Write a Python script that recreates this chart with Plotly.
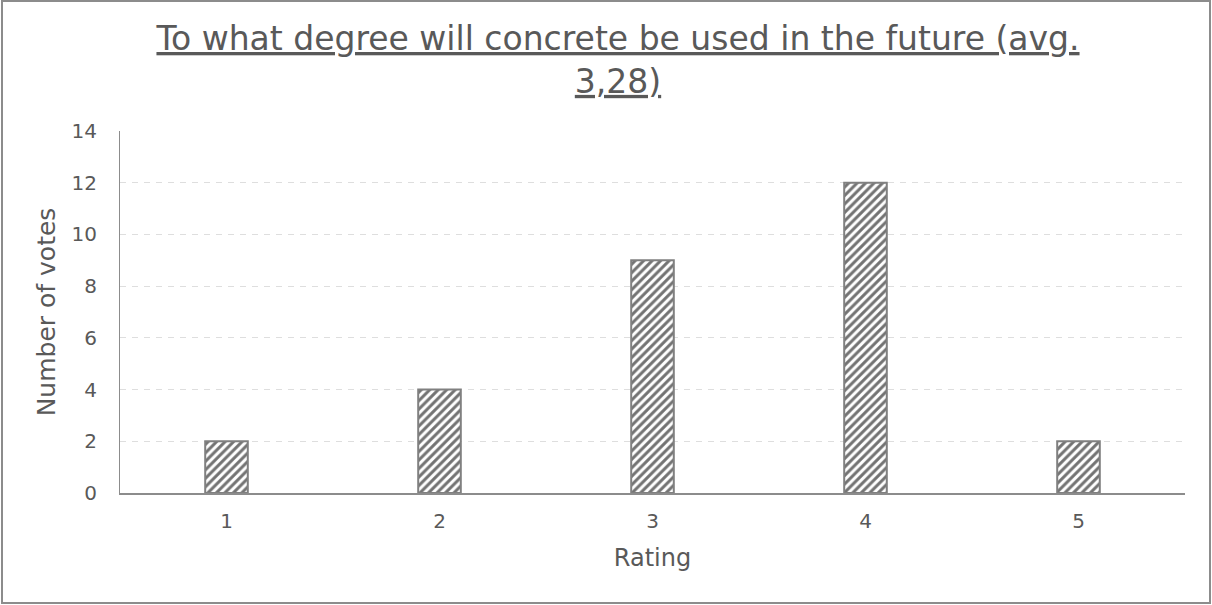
import plotly.graph_objects as go

# Survey results: rating vs. number of votes
ratings = ["1", "2", "3", "4", "5"]
votes = [2, 4, 9, 12, 2]
y_ticks = [0, 2, 4, 6, 8, 10, 12, 14]

title_text = "<u>To what degree will concrete be used in the future (avg.</u><br><u>3,28)</u>"

W, H = 1212, 605
ML, MR, MT, MB = 120, 27, 131, 112
FONT = "Verdana, DejaVu Sans, sans-serif"
TXT = "#595959"

fig = go.Figure(
    go.Bar(
        x=ratings,
        y=votes,
        width=0.2,
        marker=dict(
            color="white",
            line=dict(color="#808080", width=2),
            pattern=dict(shape="/", fgcolor="#737373", bgcolor="white",
                         size=6, solidity=0.5, fillmode="replace"),
        ),
        hoverinfo="x+y",
    )
)

# outer chart frame, expressed in paper coordinates
pw, ph = W - ML - MR, H - MT - MB
fx0 = (2 - ML) / pw
fx1 = (W - 2 - ML) / pw
fy0 = -(H - 2 - (H - MB)) / ph
fy1 = 1 + (MT - 1) / ph
fig.add_shape(type="rect", xref="paper", yref="paper",
              x0=fx0, x1=fx1, y0=fy0, y1=fy1,
              line=dict(color="#8c8c8c", width=2), fillcolor="rgba(0,0,0,0)",
              layer="below")

fig.update_layout(
    width=W, height=H,
    margin=dict(l=ML, r=MR, t=MT, b=MB),
    paper_bgcolor="white",
    plot_bgcolor="white",
    font=dict(family=FONT, color=TXT, size=20),
    title=dict(text=title_text, x=618 / W, xref="container", xanchor="center",
               y=1 - 50 / H, yanchor="top",
               font=dict(family=FONT, size=33, color=TXT)),
    showlegend=False,
    bargap=0.8,
    xaxis=dict(
        title=dict(text="Rating", font=dict(size=24, color=TXT), standoff=17),
        showline=True, linecolor="#8c8c8c", linewidth=2,
        ticks="", showgrid=False,
        ticklabelstandoff=9,
        tickfont=dict(size=20, color=TXT),
    ),
    yaxis=dict(
        title=dict(text="Number of votes", font=dict(size=25, color=TXT), standoff=8),
        range=[0, 14],
        tickvals=y_ticks,
        showline=True, linecolor="#8c8c8c", linewidth=1,
        showgrid=True, gridcolor="#dedede", griddash="6px,6px", gridwidth=1,
        zeroline=False,
        ticks="", ticklen=0,
        ticklabelstandoff=18,
        tickfont=dict(size=20, color=TXT),
    ),
)

fig.write_html("out.html")
